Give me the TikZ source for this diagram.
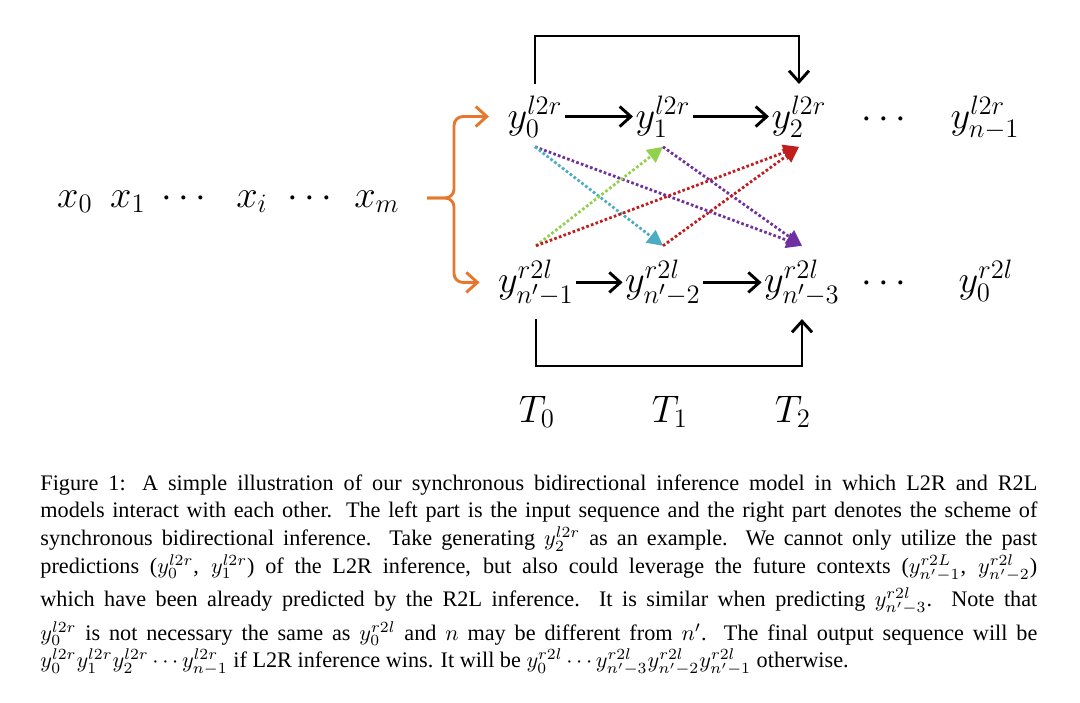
\documentclass[tikz,border=0pt]{standalone}
\usepackage{amsmath}
\usepackage{fontspec}
\setmainfont{Liberation Serif}
\usepackage{tikz}
\usetikzlibrary{arrows.meta,positioning,calc}
\definecolor{forkorange}{RGB}{230,120,45}
\definecolor{linkpurple}{RGB}{112,48,160}
\definecolor{linkcyan}{RGB}{75,172,198}
\definecolor{linkgreen}{RGB}{146,208,80}
\definecolor{linkred}{RGB}{192,30,30}

\begin{document}
\begin{tikzpicture}[x=0.45pt,y=0.45pt,
    sym/.style={font=\fontsize{17.5}{20}\selectfont, inner sep=1pt, anchor=base},
    flow/.style={line width=1.3pt, -{Straight Barb[length=5pt,width=9pt]}},
    forkline/.style={draw=forkorange, line width=1.3pt, rounded corners=4pt, -{Straight Barb[length=5pt,width=9pt]}},
    link/.style={line width=1.25pt, dash pattern=on 1.2pt off 1pt, -{Triangle[length=7pt,width=7pt]}}]
    \useasboundingbox (0,0) rectangle (1080,-702);

    % Input sequence
    \node[sym] (x0) at (75,-207) {$x_0$};
    \node[sym] (x1) at (128,-207) {$x_1$};
    \node[sym] (xd1) at (187,-207) {$\cdots$};
    \node[sym] (xi) at (252,-207) {$x_i$};
    \node[sym] (xd2) at (313,-207) {$\cdots$};
    \node[sym] (xm) at (377,-207) {$x_m$};

    % L2R row
    \node[sym] (t0) at (535,-128) {$y_0^{l2r}$};
    \node[sym] (t1) at (663,-128) {$y_1^{l2r}$};
    \node[sym] (t2) at (799,-128) {$y_2^{l2r}$};
    \node[sym] (td) at (887,-128) {$\cdots$};
    \node[sym] (tn) at (985,-128) {$y_{n-1}^{l2r}$};

    % R2L row
    \node[sym] (b0) at (536,-292) {$y_{n'-1}^{r2l}$};
    \node[sym] (b1) at (663,-292) {$y_{n'-2}^{r2l}$};
    \node[sym] (b2) at (802,-292) {$y_{n'-3}^{r2l}$};
    \node[sym] (bd) at (887,-292) {$\cdots$};
    \node[sym] (bn) at (986,-292) {$y_0^{r2l}$};

    % Time steps
    \node[sym] (T0) at (537,-422) {$T_0$};
    \node[sym] (T1) at (670,-422) {$T_1$};
    \node[sym] (T2) at (793,-422) {$T_2$};

    % Fork from the input to both rows
    \coordinate (fork) at (427,-198);
    \draw[forkline] (fork) -- ++(27,0) |- ($(t0.west)+(-16,0)$);
    \draw[forkline] (fork) -- ++(27,0) |- ($(b0.west)+(-16,0)$);

    % Step arrows
    \draw[flow] (t0) -- (t1);
    \draw[flow] (t1) -- (t2);
    \draw[flow] (b0) -- (b1);
    \draw[flow] (b1) -- (b2);

    % Skip connections
    \draw[flow] ([yshift=4pt]t0.north) -- ++(0,48) -| ([yshift=4pt]t2.north);
    \draw[flow] ([yshift=-5pt]b0.south) -- ++(0,-47) -| ([yshift=-5pt]b2.south);

    % Cross links between the rows
    \draw[link, linkpurple] ([yshift=-3pt]t0.south) -- ([yshift=5pt]b2.north);
    \draw[link, linkcyan] ([yshift=-3pt]t0.south) -- ([yshift=5pt]b1.north);
    \draw[link, linkgreen] ([yshift=5pt]b0.north) -- ([yshift=-3pt]t1.south);
    \draw[link, linkred] ([yshift=5pt]b0.north) -- ([yshift=-3pt]t2.south);
    \draw[link, linkpurple] ([yshift=-3pt]t1.south) -- ([yshift=5pt]b2.north);
    \draw[link, linkred] ([yshift=5pt]b1.north) -- ([yshift=-3pt]t2.south);

    % Caption
    \node[anchor=north west, text width=448.6pt, align=justify, inner sep=0pt,
        font=\fontsize{10}{12.5}\selectfont] (caption) at (40,-474) {\noindent
        Figure 1: A simple illustration of our synchronous bidirectional inference model in which L2R and R2L\linebreak
        models interact with each other. The left part is the input sequence and the right part denotes the scheme of\linebreak
        synchronous bidirectional inference. Take generating $y_2^{l2r}$ as an example. We cannot only utilize the past\linebreak
        predictions ($y_0^{l2r}$, $y_1^{l2r}$) of the L2R inference, but also could leverage the future contexts ($y_{n'-1}^{r2L}$, $y_{n'-2}^{r2l}$)\vspace{2.5pt}\linebreak
        which have been already predicted by the R2L inference. It is similar when predicting $y_{n'-3}^{r2l}$. Note that\vspace{2.5pt}\linebreak
        $y_0^{l2r}$ is not necessary the same as $y_0^{r2l}$ and $n$ may be different from $n'$. The final output sequence will be\linebreak
        $y_0^{l2r}y_1^{l2r}y_2^{l2r}\cdots y_{n-1}^{l2r}$ if L2R inference wins. It will be $y_0^{r2l}\cdots y_{n'-3}^{r2l}y_{n'-2}^{r2l}y_{n'-1}^{r2l}$ otherwise.};
\end{tikzpicture}
\end{document}
